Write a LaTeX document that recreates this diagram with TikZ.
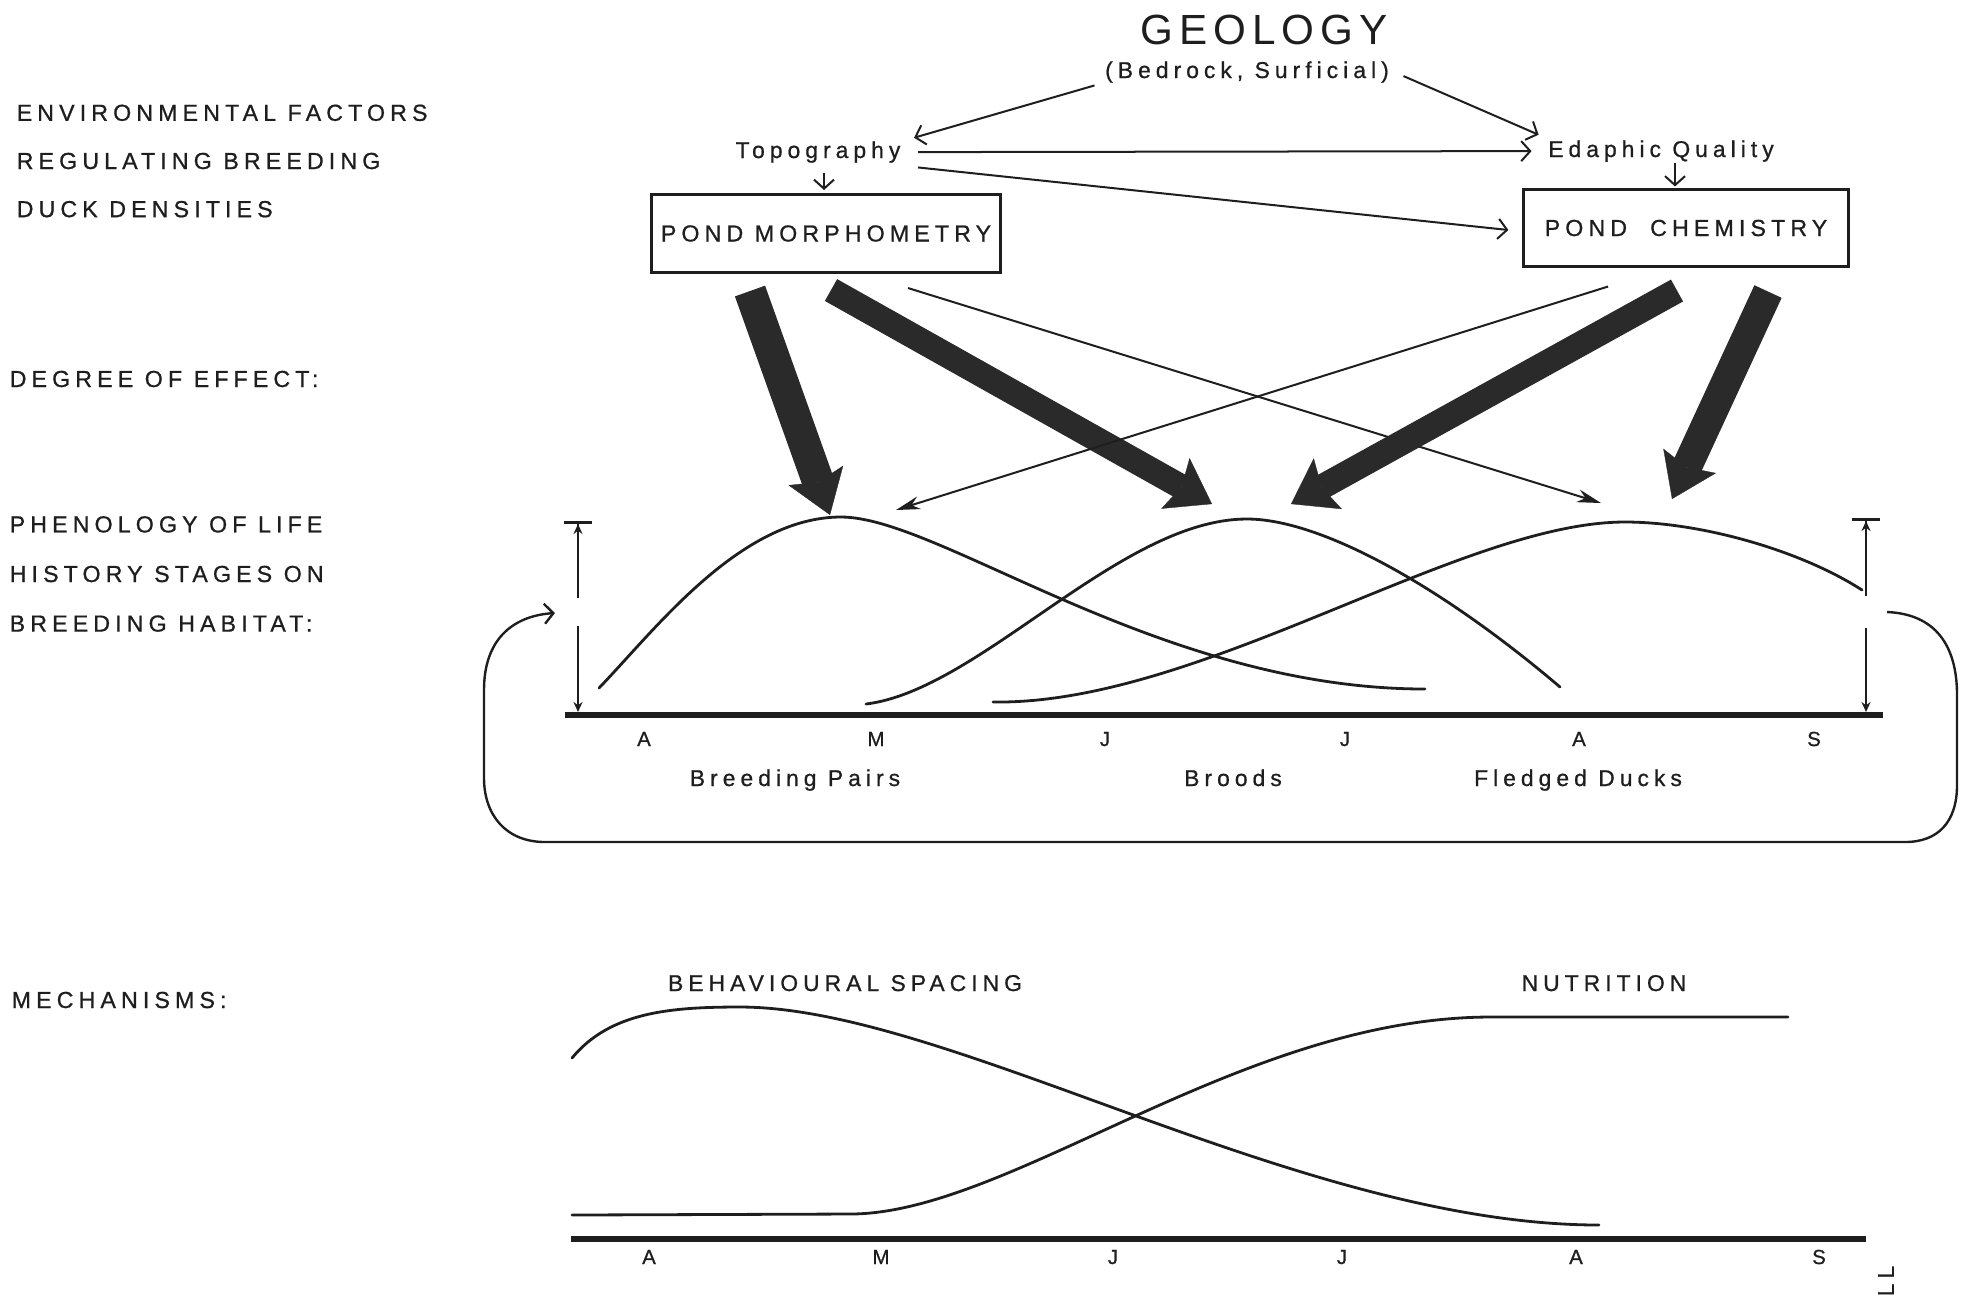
\documentclass[tikz,border=0pt]{standalone}
\usepackage{fontspec}
\setmainfont{Liberation Sans}
\usetikzlibrary{arrows.meta}
\newfontfamily\letterfont[LetterSpace=22, FakeBold=0.8]{Liberation Sans}
\newfontfamily\titlefont[LetterSpace=14]{Liberation Sans}
\definecolor{ink}{HTML}{1E1E1E}
\definecolor{heavyink}{HTML}{2A2A2A}

\begin{document}
\begin{tikzpicture}[
    x=0.01cm, y=-0.01cm,
    every node/.style={font=\letterfont\fontsize{6.5}{7}\selectfont, text=ink, inner sep=0pt},
    sidelabel/.style={anchor=west, align=left},
    stagelabel/.style={anchor=base},
    monthlabel/.style={anchor=base, font=\letterfont\fontsize{5.8}{6}\selectfont},
    pondbox/.style={
      draw=ink,
      line width=0.03cm,
      minimum height=0.78cm,
      font=\letterfont\fontsize{6.6}{7}\selectfont
    },
    arrow/.style={draw=ink, line width=0.02cm, -{Straight Barb[length=0.09cm, width=0.2cm]}},
    longarrow/.style={draw=ink, line width=0.02cm, -{Stealth[length=0.24cm, width=0.13cm]}},
    heavyarrow/.style={draw=heavyink, line width=#1,
      -{Stealth[length=0.42cm, width=0.58cm, inset=0.07cm, line width=0.1pt]}},
    heavyarrow/.default=0.3cm,
    curve/.style={draw=ink, line width=0.028cm, line cap=round},
    axisline/.style={draw=ink, line width=0.055cm},
    scaletop/.style={draw=ink, line width=0.02cm,
      -{Stealth[length=0.1cm, width=0.09cm] Bar[width=0.28cm, line width=0.03cm]}},
    scalebottom/.style={draw=ink, line width=0.02cm, -{Stealth[length=0.1cm, width=0.09cm]}}
  ]
  \useasboundingbox (0,0) rectangle (1961,1296);

  \node[sidelabel, font=\letterfont\fontsize{6.6}{13.7}\selectfont] (envlabel) at (16,161)
    {ENVIRONMENTAL FACTORS\\REGULATING BREEDING\\DUCK DENSITIES};
  \node[sidelabel, font=\letterfont\fontsize{6.6}{7}\selectfont] (effectlabel) at (9,379) {DEGREE OF EFFECT:};
  \node[sidelabel, font=\letterfont\fontsize{6.6}{14.1}\selectfont] (phenlabel) at (9,574)
    {PHENOLOGY OF LIFE\\HISTORY STAGES ON\\BREEDING HABITAT:};
  \node[sidelabel, font=\letterfont\fontsize{6.6}{7}\selectfont] (mechlabel) at (11,1000) {MECHANISMS:};

  \node[font=\titlefont\fontsize{12}{14}\selectfont] (geology) at (1264,30) {GEOLOGY};
  \node[anchor=base] (bedrock) at (1247,78) {(Bedrock, Surficial)};
  \node[anchor=base] (topo) at (818,158) {Topography};
  \node[anchor=base] (edaphic) at (1661,157) {Edaphic Quality};
  \node[pondbox, minimum width=3.48cm] (morph) at (826,233.5) {POND MORPHOMETRY};
  \node[pondbox, minimum width=3.24cm, minimum height=0.76cm] (chem) at (1686,228) {POND~ CHEMISTRY};

  \draw[arrow] ([shift={(-10,2)}]bedrock.south west) -- ([shift={(13,-3)}]topo.north east);
  \draw[arrow] ([shift={(14,4)}]bedrock.east) -- ([shift={(-9,-5)}]edaphic.north west);
  \draw[arrow] ([xshift=0.17cm]topo.east) -- ([xshift=-0.16cm]edaphic.west);
  \draw[arrow] ([shift={(17,4)}]topo.south east) -- ([shift={(-14,2)}]chem.west);
  \draw[arrow] (morph.north) ++(-2,-20) -- ++(0,17);
  \draw[arrow] (chem.north) ++(-11,-25) -- ++(0,23);

  \coordinate (pairsA) at (830,515);
  \coordinate (pairsB) at (896,510);
  \coordinate (broodsA) at (1212,504);
  \coordinate (broodsB) at (1291,504);
  \coordinate (fledgedA) at (1601,503);
  \coordinate (fledgedB) at (1672,499);

  \draw[heavyarrow=0.32cm] ([shift={(-76,17)}]morph.south) -- (pairsA);
  \draw[heavyarrow=0.25cm] ([shift={(5,16)}]morph.south) -- (broodsA);
  \draw[longarrow] ([shift={(82,14)}]morph.south) -- (fledgedA);
  \draw[longarrow] ([shift={(-78,19)}]chem.south) -- (pairsB);
  \draw[heavyarrow=0.25cm] ([shift={(-9,23)}]chem.south) -- (broodsB);
  \draw[heavyarrow=0.3cm] ([shift={(82,24)}]chem.south) -- (fledgedB);

  \draw[curve] (599,688) .. controls (655,630) and (740,517) .. (841,517)
    .. controls (940,517) and (1160,689) .. (1425,689);
  \draw[curve] (866,704) .. controls (980,690) and (1120,519) .. (1247,519)
    .. controls (1320,519) and (1440,585) .. (1560,687);
  \draw[curve] (993,702) .. controls (1200,705) and (1460,522) .. (1625,522)
    .. controls (1700,522) and (1800,550) .. (1862,590);

  \draw[axisline] (565,715) -- (1883,715);
  \draw[scaletop] (578,598) -- (578,521);
  \draw[scalebottom] (578,626) -- (578,712);
  \draw[scaletop] (1866,596) -- (1866,518);
  \draw[scalebottom] (1866,628) -- (1866,712);

  \foreach \m/\x [count=\i] in {A/644, M/876, J/1105, J/1345, A/1579, S/1814}
    \node[monthlabel] (pm\i) at (\x,746) {\m};

  \node[stagelabel] (pairs) at (795,786) {Breeding Pairs};
  \node[stagelabel] (broods) at (1233,786) {Broods};
  \node[stagelabel] (fledged) at (1578,786) {Fledged Ducks};

  \coordinate (loopS) at (1887,612);
  \coordinate (loopE) at (555,613);
  \draw[arrow, line width=0.024cm] (loopS) .. controls (1935,614) and (1957,645) .. (1957,695)
    -- (1957,785) .. controls (1957,822) and (1938,842) .. (1905,842)
    -- (545,842) .. controls (506,842) and (484,815) .. (484,778)
    -- (484,690) .. controls (484,640) and (512,616) .. (loopE);

  \node[stagelabel] (spacing) at (845,991) {BEHAVIOURAL SPACING};
  \node[stagelabel] (nutrition) at (1604,991) {NUTRITION};

  \draw[curve] (572,1058) .. controls (610,1012) and (670,1007) .. (740,1007)
    .. controls (950,1007) and (1300,1225) .. (1599,1225);
  \draw[curve] (572,1215) -- (850,1214) .. controls (1010,1214) and (1240,1017) .. (1491,1017)
    -- (1788,1017);

  \draw[axisline] (571,1239) -- (1866,1239);
  \foreach \m/\x [count=\i] in {A/649, M/881, J/1113, J/1342, A/1576, S/1819}
    \node[monthlabel] (mm\i) at (\x,1264) {\m};

  \node[rotate=90, font=\letterfont\fontsize{6.5}{7}\selectfont] (pagemark) at (1886,1281) {LL};
\end{tikzpicture}
\end{document}
